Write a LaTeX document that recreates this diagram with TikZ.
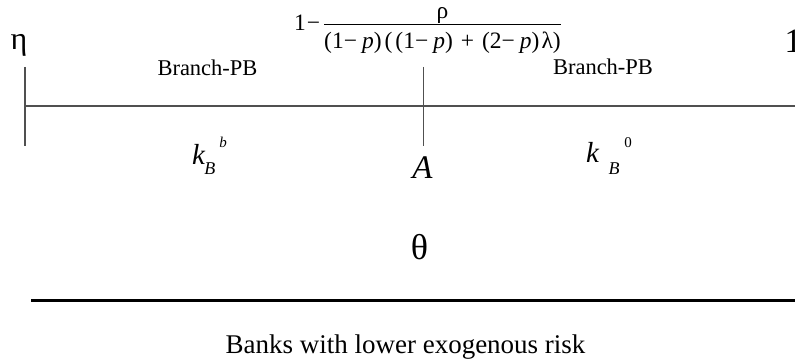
\documentclass[tikz,border=0pt]{standalone}
\usepackage{fontspec}
\setmainfont{Liberation Serif}
\usepackage{tikz}
\usetikzlibrary{positioning,calc}
\definecolor{AxisGray}{RGB}{80,80,80}
\newcommand{\fs}[1]{\fontsize{#1}{#1}\selectfont}

\begin{document}
\begin{tikzpicture}[x=1pt,y=-1pt,
  lbl/.style={inner sep=0pt,anchor=base},
  thinline/.style={draw=AxisGray,line width=1.2pt},
  thickline/.style={draw=black,line width=3pt}]
  \useasboundingbox (0,0) rectangle (795,363);
  % the axis and its two ticks
  \coordinate (axisL) at (25,106);
  \coordinate (axisR) at (795,106);
  \coordinate (tickLtop) at (25,67);
  \coordinate (tickLbot) at (25,146);
  \coordinate (tickAtop) at (423.5,67);
  \coordinate (tickAbot) at (423.5,146);
  \draw[thinline] (axisL) -- (axisR);
  \draw[thinline] (tickLtop) -- (tickLbot);
  \draw[thinline] (tickAtop) -- (tickAbot);
  % end points and the threshold
  \node[lbl,font={\fs{32}}] (eta) at (19,50) {η};
  \node[lbl,font={\fs{34}}] (one) at (793,53) {1};
  \node[inner sep=0pt,font={\fs{23.5}}] (bound) at (428,30.5)
    {$\hbox{1\kern1pt−}\kern3pt\frac{\hbox{ρ}\rule[-5pt]{0pt}{5pt}}{\rule{0pt}{23pt}\hbox{(1−\kern5pt\textit{p})\kern3pt(\kern3pt(1−\kern5pt\textit{p})\kern8pt+\kern8pt(2−\kern5pt\textit{p})\kern2ptλ)}}$};
  % regions
  \node[lbl,font={\fs{22.5}}] (pbL) at (207.5,76) {Branch-PB};
  \node[lbl,font={\fs{22.5}}] (pbR) at (603,75) {Branch-PB};
  \node[lbl,anchor=base west,font={\fs{29}}] (kL) at (192,165)
    {\textit{k}\kern-1pt\raisebox{-10pt}{\fs{18}\textit{B}}\kern4pt\raisebox{17pt}{\fs{15}\textit{b}}};
  \node[lbl,anchor=base west,font={\fs{29}}] (kR) at (586,163)
    {\textit{k}\kern9pt\raisebox{-12pt}{\fs{18}\textit{B}}\kern5pt\raisebox{15pt}{\fs{15}0}};
  \node[lbl,font={\fs{33}}] (A) at (422.5,179) {\textit{A}};
  % theta and the bank scale
  \node[lbl,font={\fs{36}}] (theta) at (419.5,260) {θ};
  \coordinate (scaleL) at (31,301);
  \coordinate (scaleR) at (795,301);
  \draw[thickline] (scaleL) -- (scaleR);
  \node[lbl,font={\fs{27}}] (banks) at (405.5,353) {Banks with lower exogenous risk};
\end{tikzpicture}
\end{document}
